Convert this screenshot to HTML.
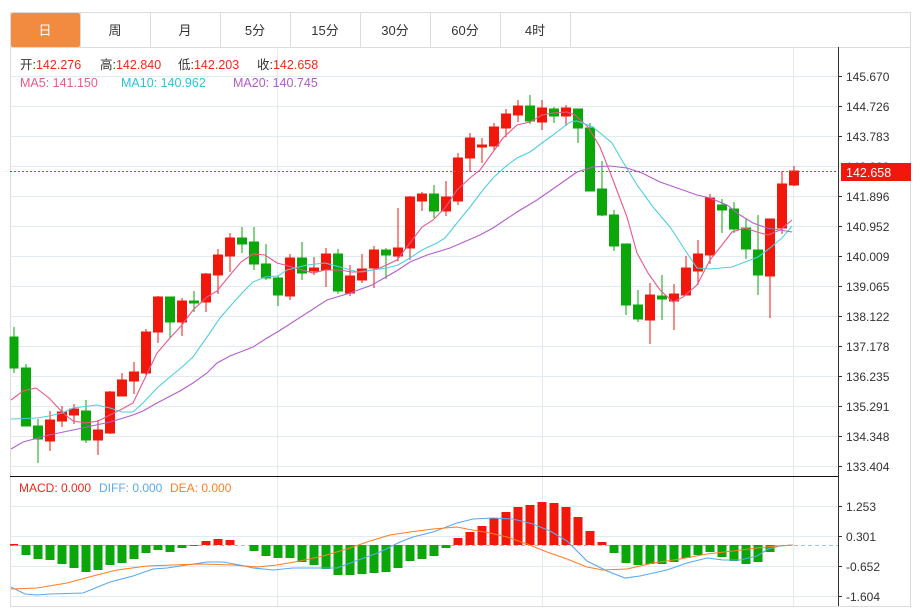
<!DOCTYPE html>
<html><head><meta charset="utf-8"><style>
body{margin:0;background:#fff;width:920px;height:607px;overflow:hidden;font-family:"Liberation Sans","Noto Sans CJK SC",sans-serif}
</style></head><body>
<svg width="920" height="607" xmlns="http://www.w3.org/2000/svg" font-family="Liberation Sans, Noto Sans CJK SC, sans-serif">
<rect x="10.5" y="12.5" width="900" height="594" fill="#fff" stroke="#dcdcdc"/>
<!-- tabs -->
<rect x="11" y="13" width="69" height="34" fill="#f28b3f" rx="2"/>
<g stroke="#dcdcdc"><line x1="80.5" y1="12" x2="80.5" y2="47"/><line x1="150.5" y1="12" x2="150.5" y2="47"/><line x1="220.5" y1="12" x2="220.5" y2="47"/><line x1="290.5" y1="12" x2="290.5" y2="47"/><line x1="360.5" y1="12" x2="360.5" y2="47"/><line x1="430.5" y1="12" x2="430.5" y2="47"/><line x1="500.5" y1="12" x2="500.5" y2="47"/><line x1="570.5" y1="12" x2="570.5" y2="47"/><line x1="10" y1="47.5" x2="911" y2="47.5"/></g>
<g font-size="13" fill="#333" text-anchor="middle"><text x="45" y="35" fill="#fff">日</text><text x="115" y="35">周</text><text x="185" y="35">月</text><text x="255" y="35">5分</text><text x="325" y="35">15分</text><text x="395" y="35">30分</text><text x="465" y="35">60分</text><text x="535" y="35">4时</text></g>
<!-- grid -->
<g stroke="#e3ebf2" stroke-width="1">
<line x1="10" y1="76.5" x2="838" y2="76.5"/><line x1="10" y1="106.5" x2="838" y2="106.5"/><line x1="10" y1="136.5" x2="838" y2="136.5"/><line x1="10" y1="166.5" x2="838" y2="166.5"/><line x1="10" y1="196.5" x2="838" y2="196.5"/><line x1="10" y1="226.5" x2="838" y2="226.5"/><line x1="10" y1="256.5" x2="838" y2="256.5"/><line x1="10" y1="286.5" x2="838" y2="286.5"/><line x1="10" y1="316.5" x2="838" y2="316.5"/><line x1="10" y1="346.5" x2="838" y2="346.5"/><line x1="10" y1="376.5" x2="838" y2="376.5"/><line x1="10" y1="406.5" x2="838" y2="406.5"/><line x1="10" y1="436.5" x2="838" y2="436.5"/><line x1="10" y1="466.5" x2="838" y2="466.5"/>
<line x1="277.5" y1="47" x2="277.5" y2="606"/><line x1="542.5" y1="47" x2="542.5" y2="606"/><line x1="793.5" y1="47" x2="793.5" y2="606"/>
<line x1="10" y1="506.5" x2="838" y2="506.5"/><line x1="10" y1="536.5" x2="838" y2="536.5"/><line x1="10" y1="566.5" x2="838" y2="566.5"/><line x1="10" y1="596.5" x2="838" y2="596.5"/>
</g>
<!-- legend -->
<g font-size="12.5"><text x="20" y="69" fill="#333">开:<tspan fill="#f0281e">142.276</tspan></text><text x="100" y="69" fill="#333">高:<tspan fill="#f0281e">142.840</tspan></text><text x="178" y="69" fill="#333">低:<tspan fill="#f0281e">142.203</tspan></text><text x="257" y="69" fill="#333">收:<tspan fill="#f0281e">142.658</tspan></text>
<text x="20" y="87" fill="#e9588a">MA5: 141.150</text><text x="121" y="87" fill="#26c6da">MA10: 140.962</text><text x="233" y="87" fill="#b05cc8">MA20: 140.745</text></g>
<!-- candles -->
<g stroke-width="1">
<g fill="#0aa60a" stroke="#0aa60a">
<line x1="14" y1="327" x2="14" y2="373"/><rect x="10" y="337" width="8" height="31"/>
<line x1="26" y1="364" x2="26" y2="426"/><rect x="21.5" y="368" width="9" height="58"/>
<line x1="38" y1="419" x2="38" y2="463"/><rect x="33.5" y="426" width="9" height="13"/>
<line x1="86" y1="400" x2="86" y2="443"/><rect x="81.5" y="411" width="9" height="29"/>
<line x1="170" y1="297" x2="170" y2="338"/><rect x="165.5" y="297" width="9" height="25"/>
<line x1="194" y1="291" x2="194" y2="312"/><rect x="189.5" y="301" width="9" height="2"/>
<line x1="242" y1="227" x2="242" y2="253"/><rect x="237.5" y="238" width="9" height="6"/>
<line x1="254" y1="227" x2="254" y2="270"/><rect x="249.5" y="242" width="9" height="22"/>
<line x1="266" y1="244" x2="266" y2="280"/><rect x="261.5" y="264" width="9" height="14"/>
<line x1="278" y1="276" x2="278" y2="306"/><rect x="273.5" y="278" width="9" height="17"/>
<line x1="302" y1="242" x2="302" y2="280"/><rect x="297.5" y="258" width="9" height="15"/>
<line x1="338" y1="249" x2="338" y2="294"/><rect x="333.5" y="254" width="9" height="37"/>
<line x1="386" y1="248" x2="386" y2="279"/><rect x="381.5" y="250" width="9" height="5"/>
<line x1="434" y1="185" x2="434" y2="218"/><rect x="429.5" y="194" width="9" height="17"/>
<line x1="530" y1="95" x2="530" y2="124"/><rect x="525.5" y="106" width="9" height="15"/>
<line x1="554" y1="107" x2="554" y2="123"/><rect x="549.5" y="109" width="9" height="7"/>
<line x1="578" y1="109" x2="578" y2="143"/><rect x="573.5" y="109" width="9" height="19"/>
<line x1="590" y1="123" x2="590" y2="191"/><rect x="585.5" y="128" width="9" height="63"/>
<line x1="602" y1="161" x2="602" y2="216"/><rect x="597.5" y="189" width="9" height="26"/>
<line x1="614" y1="210" x2="614" y2="251"/><rect x="609.5" y="215" width="9" height="31"/>
<line x1="626" y1="244" x2="626" y2="315"/><rect x="621.5" y="244" width="9" height="61"/>
<line x1="638" y1="290" x2="638" y2="322"/><rect x="633.5" y="305" width="9" height="14"/>
<line x1="662" y1="275" x2="662" y2="320"/><rect x="657.5" y="296" width="9" height="3"/>
<line x1="722" y1="199" x2="722" y2="233"/><rect x="717.5" y="205" width="9" height="5"/>
<line x1="734" y1="202" x2="734" y2="233"/><rect x="729.5" y="209" width="9" height="20"/>
<line x1="746" y1="218" x2="746" y2="259"/><rect x="741.5" y="228" width="9" height="21"/>
<line x1="758" y1="215" x2="758" y2="295"/><rect x="753.5" y="250" width="9" height="25"/>
</g>
<g fill="#f2170b" stroke="#f2170b">
<line x1="50" y1="411" x2="50" y2="451"/><rect x="45.5" y="420" width="9" height="21"/>
<line x1="62" y1="406" x2="62" y2="427"/><rect x="57.5" y="412" width="9" height="9"/>
<line x1="74" y1="404" x2="74" y2="424"/><rect x="69.5" y="409" width="9" height="6"/>
<line x1="98" y1="420" x2="98" y2="455"/><rect x="93.5" y="430" width="9" height="10"/>
<line x1="110" y1="391" x2="110" y2="434"/><rect x="105.5" y="392" width="9" height="41"/>
<line x1="122" y1="373" x2="122" y2="396"/><rect x="117.5" y="380" width="9" height="16"/>
<line x1="134" y1="362" x2="134" y2="394"/><rect x="129.5" y="372" width="9" height="9"/>
<line x1="146" y1="329" x2="146" y2="375"/><rect x="141.5" y="332" width="9" height="41"/>
<line x1="158" y1="296" x2="158" y2="343"/><rect x="153.5" y="297" width="9" height="35"/>
<line x1="182" y1="298" x2="182" y2="336"/><rect x="177.5" y="301" width="9" height="21"/>
<line x1="206" y1="273" x2="206" y2="312"/><rect x="201.5" y="274" width="9" height="28"/>
<line x1="218" y1="249" x2="218" y2="294"/><rect x="213.5" y="255" width="9" height="20"/>
<line x1="230" y1="233" x2="230" y2="272"/><rect x="225.5" y="238" width="9" height="18"/>
<line x1="290" y1="254" x2="290" y2="300"/><rect x="285.5" y="258" width="9" height="38"/>
<line x1="314" y1="257" x2="314" y2="275"/><rect x="309.5" y="268" width="9" height="3"/>
<line x1="326" y1="248" x2="326" y2="287"/><rect x="321.5" y="254" width="9" height="16"/>
<line x1="350" y1="265" x2="350" y2="296"/><rect x="345.5" y="276" width="9" height="17"/>
<line x1="362" y1="254" x2="362" y2="283"/><rect x="357.5" y="269" width="9" height="11"/>
<line x1="374" y1="246" x2="374" y2="288"/><rect x="369.5" y="250" width="9" height="18"/>
<line x1="398" y1="208" x2="398" y2="261"/><rect x="393.5" y="248" width="9" height="8"/>
<line x1="410" y1="196" x2="410" y2="260"/><rect x="405.5" y="197" width="9" height="51"/>
<line x1="422" y1="192" x2="422" y2="211"/><rect x="417.5" y="194" width="9" height="7"/>
<line x1="446" y1="181" x2="446" y2="216"/><rect x="441.5" y="197" width="9" height="14"/>
<line x1="458" y1="153" x2="458" y2="205"/><rect x="453.5" y="158" width="9" height="43"/>
<line x1="470" y1="133" x2="470" y2="172"/><rect x="465.5" y="138" width="9" height="20"/>
<line x1="482" y1="138" x2="482" y2="163"/><rect x="477.5" y="145" width="9" height="2"/>
<line x1="494" y1="123" x2="494" y2="150"/><rect x="489.5" y="127" width="9" height="19"/>
<line x1="506" y1="109" x2="506" y2="137"/><rect x="501.5" y="114" width="9" height="14"/>
<line x1="518" y1="100" x2="518" y2="122"/><rect x="513.5" y="106" width="9" height="9"/>
<line x1="542" y1="100" x2="542" y2="130"/><rect x="537.5" y="108" width="9" height="14"/>
<line x1="566" y1="105" x2="566" y2="126"/><rect x="561.5" y="108" width="9" height="8"/>
<line x1="650" y1="283" x2="650" y2="344"/><rect x="645.5" y="295" width="9" height="25"/>
<line x1="674" y1="284" x2="674" y2="330"/><rect x="669.5" y="294" width="9" height="7"/>
<line x1="686" y1="256" x2="686" y2="295"/><rect x="681.5" y="268" width="9" height="27"/>
<line x1="698" y1="240" x2="698" y2="285"/><rect x="693.5" y="254" width="9" height="17"/>
<line x1="710" y1="194" x2="710" y2="264"/><rect x="705.5" y="198" width="9" height="57"/>
<line x1="770" y1="219" x2="770" y2="318"/><rect x="765.5" y="219" width="9" height="57"/>
<line x1="782" y1="171" x2="782" y2="234"/><rect x="777.5" y="184" width="9" height="44"/>
<line x1="794" y1="166" x2="794" y2="186"/><rect x="789.5" y="171" width="9" height="14"/>
</g></g>
<!-- MAs -->
<g fill="none" stroke-width="1.1">
<polyline stroke="#e9588a" points="11,400 23,391 36,388 49,398 63,413 73,421 86,423 98,421 110,415 122,409 133,403 145,378 157,353 170,338 182,325 193,310 207,297 217,291 230,275 241,262 253,254 265,255 277,263 285,265 302,270 313,273 325,270 340,270 352,272 363,272 380,268 397,260 410,243 422,227 433,220 445,208 457,190 470,178 480,170 493,152 503,138 517,125 530,122 542,115 553,113 567,112 575,115 588,127 600,147 613,180 627,217 637,253 648,273 660,290 673,302 683,297 697,285 710,260 722,245 732,232 745,228 757,232 768,235 780,230 792,220"/>
<polyline stroke="#4fcfe0" points="11,419 37,418 49,416 62,413 73,408 97,405 110,408 122,412 133,412 143,403 157,388 170,377 182,367 193,357 207,337 220,318 233,303 243,292 253,282 265,277 278,276 287,270 307,265 325,263 340,267 358,272 373,270 387,268 398,265 410,258 422,250 437,243 445,238 457,223 470,207 483,190 493,178 505,167 517,158 530,152 542,143 553,135 570,122 577,121 593,127 612,143 623,162 637,185 653,207 670,227 685,250 697,268 710,269 732,267 745,262 758,257 770,248 782,238 792,226"/>
<polyline stroke="#b45fcc" points="11,449 23,442 49,435 73,430 87,427 110,422 133,415 143,411 157,403 180,391 193,383 207,373 217,363 230,356 253,347 267,338 279,331 327,300 350,293 372,285 398,270 410,262 427,255 450,248 480,235 493,228 517,212 537,200 560,184 577,172 593,167 610,166 627,168 642,173 660,182 680,189 697,195 710,198 727,205 740,215 753,223 767,228 780,230 792,232"/>
</g>
<!-- last price -->
<line x1="10" y1="171.5" x2="838" y2="171.5" stroke="#f2372b" stroke-dasharray="2,2"/>
<!-- axis -->
<line x1="838.5" y1="47" x2="838.5" y2="606" stroke="#333"/>
<line x1="10" y1="476.5" x2="838" y2="476.5" stroke="#111"/>
<g font-size="12" fill="#333">
<g stroke="#333"><line x1="838" y1="76.5" x2="842" y2="76.5"/><line x1="838" y1="106.5" x2="842" y2="106.5"/><line x1="838" y1="136.5" x2="842" y2="136.5"/><line x1="838" y1="196.5" x2="842" y2="196.5"/><line x1="838" y1="226.5" x2="842" y2="226.5"/><line x1="838" y1="256.5" x2="842" y2="256.5"/><line x1="838" y1="286.5" x2="842" y2="286.5"/><line x1="838" y1="316.5" x2="842" y2="316.5"/><line x1="838" y1="346.5" x2="842" y2="346.5"/><line x1="838" y1="376.5" x2="842" y2="376.5"/><line x1="838" y1="406.5" x2="842" y2="406.5"/><line x1="838" y1="436.5" x2="842" y2="436.5"/><line x1="838" y1="466.5" x2="842" y2="466.5"/><line x1="838" y1="506.5" x2="842" y2="506.5"/><line x1="838" y1="536.5" x2="842" y2="536.5"/><line x1="838" y1="566.5" x2="842" y2="566.5"/><line x1="838" y1="596.5" x2="842" y2="596.5"/></g>
<text x="846" y="81">145.670</text><text x="846" y="111">144.726</text><text x="846" y="141">143.783</text><text x="846" y="171">142.839</text><text x="846" y="201">141.896</text><text x="846" y="231">140.952</text><text x="846" y="261">140.009</text><text x="846" y="291">139.065</text><text x="846" y="321">138.122</text><text x="846" y="351">137.178</text><text x="846" y="381">136.235</text><text x="846" y="411">135.291</text><text x="846" y="441">134.348</text><text x="846" y="471">133.404</text>
<text x="846" y="511">1.253</text><text x="846" y="541">0.301</text><text x="846" y="571">-0.652</text><text x="846" y="601">-1.604</text>
</g>
<rect x="841" y="163" width="70" height="18" fill="#f2170b"/>
<text x="846" y="177" font-size="12.5" fill="#fff">142.658</text>
<!-- MACD -->
<g font-size="12"><text x="19" y="492" fill="#f0281e">MACD: 0.000</text><text x="99" y="492" fill="#5aa9f0">DIFF: 0.000</text><text x="170" y="492" fill="#ff7f24">DEA: 0.000</text></g>
<line x1="10" y1="545.5" x2="838" y2="545.5" stroke="#9cc3dc" stroke-dasharray="4,3"/>
<g fill="#0aa60a">
<rect x="21.5" y="545" width="9" height="10"/><rect x="33.5" y="545" width="9" height="14"/><rect x="45.5" y="545" width="9" height="15"/><rect x="57.5" y="545" width="9" height="19"/><rect x="69.5" y="545" width="9" height="23"/><rect x="81.5" y="545" width="9" height="27"/><rect x="93.5" y="545" width="9" height="25"/><rect x="105.5" y="545" width="9" height="20"/><rect x="117.5" y="545" width="9" height="18"/><rect x="129.5" y="545" width="9" height="14"/><rect x="141.5" y="545" width="9" height="8"/><rect x="153.5" y="545" width="9" height="5"/><rect x="165.5" y="545" width="9" height="7"/><rect x="177.5" y="545" width="9" height="3"/><rect x="189.5" y="545" width="9" height="1"/>
<rect x="249.5" y="545" width="9" height="6"/><rect x="261.5" y="545" width="9" height="11"/><rect x="273.5" y="545" width="9" height="13"/><rect x="285.5" y="545" width="9" height="13"/><rect x="297.5" y="545" width="9" height="17"/><rect x="309.5" y="545" width="9" height="20"/><rect x="321.5" y="545" width="9" height="24"/><rect x="333.5" y="545" width="9" height="30"/><rect x="345.5" y="545" width="9" height="30"/><rect x="357.5" y="545" width="9" height="29"/><rect x="369.5" y="545" width="9" height="28"/><rect x="381.5" y="545" width="9" height="27"/><rect x="393.5" y="545" width="9" height="23"/><rect x="405.5" y="545" width="9" height="16"/><rect x="417.5" y="545" width="9" height="14"/><rect x="429.5" y="545" width="9" height="11"/><rect x="441.5" y="545" width="9" height="3"/>
<rect x="609.5" y="545" width="9" height="8"/><rect x="621.5" y="545" width="9" height="18"/><rect x="633.5" y="545" width="9" height="20"/><rect x="645.5" y="545" width="9" height="19"/><rect x="657.5" y="545" width="9" height="19"/><rect x="669.5" y="545" width="9" height="17"/><rect x="681.5" y="545" width="9" height="13"/><rect x="693.5" y="545" width="9" height="10"/><rect x="705.5" y="545" width="9" height="7"/><rect x="717.5" y="545" width="9" height="12"/><rect x="729.5" y="545" width="9" height="16"/><rect x="741.5" y="545" width="9" height="19"/><rect x="753.5" y="545" width="9" height="17"/><rect x="765.5" y="545" width="9" height="7"/>
</g>
<g fill="#f2170b">
<rect x="10" y="544" width="8" height="1.5"/><rect x="201.5" y="541" width="9" height="4"/><rect x="213.5" y="539" width="9" height="6"/><rect x="225.5" y="540" width="9" height="5"/>
<rect x="453.5" y="538" width="9" height="7"/><rect x="465.5" y="532" width="9" height="13"/><rect x="477.5" y="526" width="9" height="19"/><rect x="489.5" y="518" width="9" height="27"/><rect x="501.5" y="512" width="9" height="33"/><rect x="513.5" y="507" width="9" height="38"/><rect x="525.5" y="505" width="9" height="40"/><rect x="537.5" y="502" width="9" height="43"/><rect x="549.5" y="503" width="9" height="42"/><rect x="561.5" y="507" width="9" height="38"/><rect x="573.5" y="517" width="9" height="28"/><rect x="585.5" y="531" width="9" height="14"/><rect x="597.5" y="542" width="9" height="3"/>
</g>
<g fill="none" stroke-width="1.1">
<polyline stroke="#5aa9f0" points="11,587 25,594 37,595 50,594 83,593 110,582 133,576 153,569 167,568 187,565 207,562 223,562 240,565 253,568 273,570 293,568 313,568 337,568 353,562 380,552 400,542 413,537 433,532 457,523 473,519 493,518 513,519 533,524 550,531 567,541 587,561 607,571 625,578 640,576 667,570 687,563 707,558 723,560 740,560 757,556 768,549 780,546 793,545"/>
<polyline stroke="#ff7f24" points="11,589 37,588 67,583 93,576 117,570 147,566 173,565 200,564 233,565 257,567 277,565 300,561 323,556 347,549 370,541 390,535 410,532 433,529 457,527 467,529 490,533 507,537 527,544 547,552 567,559 587,567 603,570 627,569 653,563 680,559 707,554 733,551 757,548 777,546 793,545"/>
</g>
</svg>
</body></html>
